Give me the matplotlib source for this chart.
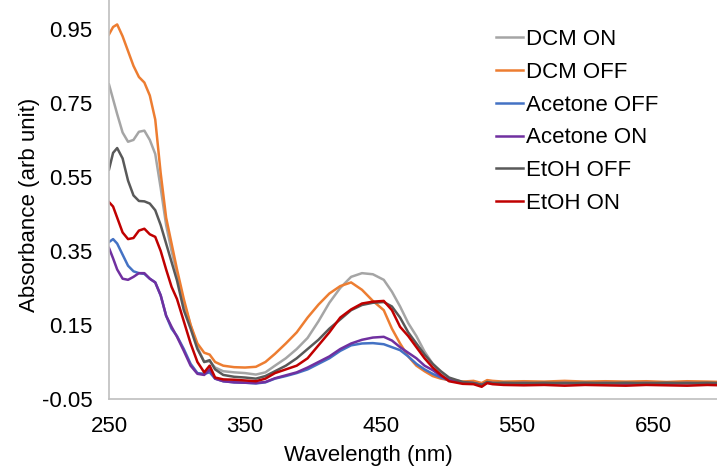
import matplotlib.pyplot as plt
import numpy as np

plt.rcParams['font.family'] = ['Liberation Sans', 'DejaVu Sans']

wavelength = [250, 253, 256, 260, 264, 268, 272, 276, 280, 284,
              288, 292, 296, 300, 305, 310, 315, 320, 324, 328,
              334, 342, 350, 358, 365, 372, 380, 388, 396, 404,
              412, 420, 428, 436, 444, 452, 458, 464, 470, 476,
              482, 488, 494, 500, 510, 518, 524, 528, 532, 540,
              555, 570, 585, 600, 615, 630, 645, 660, 675, 690, 700]

dcm_on = [0.800, 0.760, 0.720, 0.670, 0.645, 0.650, 0.672, 0.675, 0.650, 0.612,
          0.520, 0.420, 0.350, 0.290, 0.210, 0.150, 0.090, 0.050, 0.052, 0.035,
          0.025, 0.022, 0.020, 0.016, 0.022, 0.040, 0.060, 0.085, 0.115, 0.160,
          0.210, 0.250, 0.280, 0.290, 0.287, 0.272, 0.240, 0.200, 0.155, 0.120,
          0.078, 0.045, 0.020, 0.004, -0.003, -0.005, -0.010, -0.002, -0.004, -0.006,
          -0.004, -0.006, -0.004, -0.006, -0.004, -0.005, -0.004, -0.006, -0.004, -0.005, -0.006]

dcm_off = [0.935, 0.955, 0.962, 0.930, 0.890, 0.850, 0.820, 0.805, 0.770, 0.705,
           0.560, 0.440, 0.370, 0.300, 0.220, 0.150, 0.100, 0.075, 0.070, 0.050,
           0.040, 0.036, 0.035, 0.037, 0.050, 0.072, 0.100, 0.130, 0.170, 0.205,
           0.235, 0.255, 0.265, 0.245, 0.215, 0.190, 0.140, 0.100, 0.065, 0.040,
           0.025, 0.012, 0.005, 0.001, -0.003, -0.001, -0.007, 0.001, -0.001, -0.003,
           -0.002, -0.003, -0.001, -0.003, -0.002, -0.003, -0.002, -0.004, -0.002, -0.003, -0.004]

acetone_off = [0.374, 0.382, 0.370, 0.340, 0.310, 0.295, 0.290, 0.288, 0.275, 0.265,
               0.230, 0.175, 0.140, 0.120, 0.085, 0.045, 0.020, 0.018, 0.022, 0.005,
               -0.002, -0.005, -0.006, -0.008, -0.005, 0.005, 0.012, 0.020, 0.030, 0.045,
               0.060, 0.080, 0.095, 0.100, 0.101, 0.098, 0.090, 0.082, 0.065, 0.045,
               0.030, 0.018, 0.008, 0.000, -0.006, -0.007, -0.012, -0.006, -0.007, -0.008,
               -0.007, -0.008, -0.007, -0.008, -0.007, -0.008, -0.007, -0.008, -0.007, -0.008, -0.008]

acetone_on = [0.358, 0.330, 0.300, 0.275, 0.272, 0.280, 0.290, 0.290, 0.275, 0.265,
              0.230, 0.175, 0.145, 0.118, 0.080, 0.040, 0.018, 0.015, 0.030, 0.005,
              -0.002, -0.005, -0.006, -0.007, -0.004, 0.006, 0.014, 0.022, 0.035, 0.050,
              0.065, 0.085, 0.100, 0.110, 0.116, 0.118, 0.108, 0.090, 0.075, 0.060,
              0.040, 0.028, 0.012, 0.002, -0.006, -0.007, -0.012, -0.006, -0.007, -0.008,
              -0.007, -0.008, -0.007, -0.008, -0.007, -0.008, -0.007, -0.008, -0.007, -0.008, -0.008]

etoh_off = [0.570, 0.615, 0.628, 0.600, 0.540, 0.500, 0.485, 0.484, 0.478, 0.460,
            0.420, 0.370, 0.320, 0.270, 0.190, 0.140, 0.085, 0.050, 0.055, 0.030,
            0.015, 0.010, 0.008, 0.005, 0.012, 0.025, 0.040, 0.060, 0.085, 0.110,
            0.140, 0.165, 0.190, 0.204, 0.210, 0.212, 0.200, 0.170, 0.130, 0.100,
            0.070, 0.045, 0.025, 0.008, -0.004, -0.007, -0.012, -0.004, -0.007, -0.006,
            -0.007, -0.006, -0.007, -0.006, -0.007, -0.006, -0.007, -0.006, -0.007, -0.006, -0.007]

etoh_on = [0.482, 0.470, 0.440, 0.400, 0.382, 0.385, 0.405, 0.410, 0.395, 0.388,
           0.350, 0.300, 0.253, 0.220, 0.160, 0.100, 0.050, 0.022, 0.040, 0.008,
           0.003, 0.002, 0.000, -0.002, 0.005, 0.020, 0.030, 0.040, 0.060, 0.095,
           0.130, 0.170, 0.192, 0.208, 0.213, 0.215, 0.190, 0.145, 0.120, 0.090,
           0.060, 0.035, 0.015, -0.002, -0.009, -0.010, -0.017, -0.007, -0.010, -0.012,
           -0.013, -0.012, -0.014, -0.012, -0.013, -0.014, -0.012, -0.013, -0.014, -0.012, -0.013]

series = [
    ('DCM ON', dcm_on, '#a5a5a5'),
    ('DCM OFF', dcm_off, '#ed7d31'),
    ('Acetone OFF', acetone_off, '#4472c4'),
    ('Acetone ON', acetone_on, '#7030a0'),
    ('EtOH OFF', etoh_off, '#595959'),
    ('EtOH ON', etoh_on, '#c00000'),
]

W, H = 717, 468
fig = plt.figure(figsize=(W / 100, H / 100), dpi=100)
ax = fig.add_axes([109 / W, 69 / H, 608 / W, 399 / H])

for label, values, color in series:
    ax.plot(wavelength, values, color=color, linewidth=1.8, label=label)

ax.set_xlim(250, 697)
ax.set_ylim(-0.05, 1.028)
ax.set_xticks(np.arange(250, 651, 100))
yt = np.arange(-0.05, 0.96, 0.2)
ax.set_yticks(yt)
ax.set_yticklabels(['%.2f' % v for v in yt])
ax.tick_params(length=0, pad=12, labelsize=16)

for side in ['top', 'right']:
    ax.spines[side].set_visible(False)
for side in ['left', 'bottom']:
    ax.spines[side].set_color('#bfbfbf')
    ax.spines[side].set_linewidth(1.2)

# axis titles placed in figure pixels
fig.text(368 / W, 1 - 455 / H, 'Wavelength (nm)', fontsize=16,
         ha='center', va='center')
fig.text(30 / W, 1 - 205 / H, 'Absorbance (arb unit)', fontsize=16,
         ha='center', va='center', rotation=90)

fig.legend(loc='upper left', bbox_to_anchor=(496 / W, 1 - 29 / H),
           frameon=False, fontsize=16, handlelength=1.22, handletextpad=0.14,
           labelspacing=0.53, borderpad=0, borderaxespad=0)

plt.savefig('out.png', dpi=100)
